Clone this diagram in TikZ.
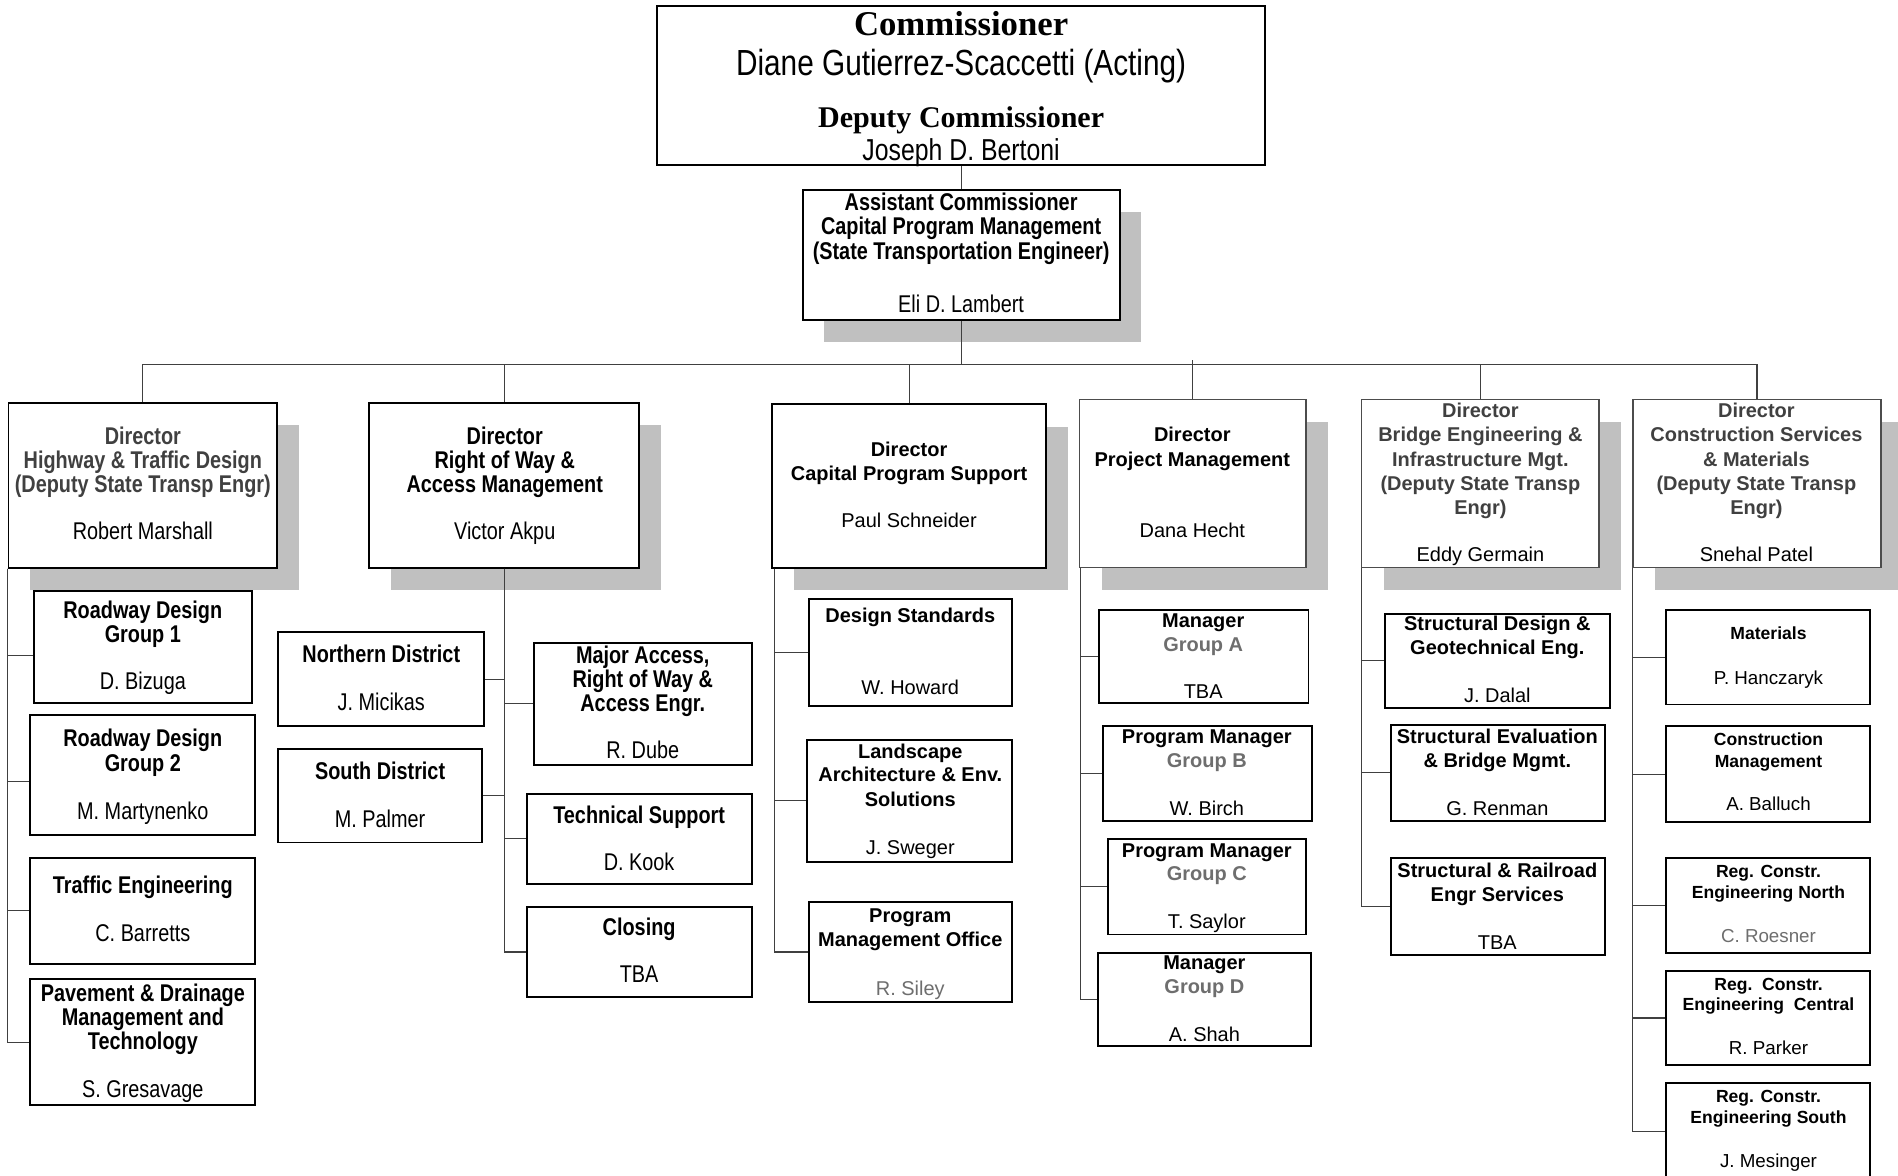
\documentclass[tikz,border=0pt]{standalone}
\usepackage{fontspec}
\setmainfont{Liberation Sans}
\newfontfamily\nfont[FakeStretch=0.82]{Liberation Sans}
\newfontfamily\tfont{Liberation Serif}
\usetikzlibrary{fit,shadows}
\definecolor{shd}{HTML}{C0C0C0}
\definecolor{tg}{HTML}{404040}
\definecolor{lg}{HTML}{6E6E6E}
\newcounter{tlc}
\newcommand\txl[4][]{\stepcounter{tlc}\node[#1] (t\arabic{tlc}) at (#2,#3) {#4};}
\newcommand\orgbox[6][]{\node[box,#1,fit={(#3,#4) (#5,#6)}] (#2) {};}
\begin{document}
\begin{tikzpicture}[x=1pt,y=-1pt,
  box/.style={draw=black, line width=1.6pt, fill=white, inner sep=0pt},
  dbox/.style={draw=black!70, line width=1pt},
  sh/.style={drop shadow={shadow xshift=18pt, shadow yshift=-18.5pt, fill=shd, opacity=1}},
  con/.style={draw=black!75, line width=0.9pt},
  bl/.style={anchor=base, inner sep=0pt},
  nb/.style={bl, font=\nfont\bfseries\fontsize{20}{20}\selectfont, yshift=-7pt},
  nr/.style={bl, font=\nfont\fontsize{20}{20}\selectfont, yshift=-7pt},
  rb/.style={bl, font=\bfseries\fontsize{16.5}{18}\selectfont, yshift=-6pt},
  rr/.style={bl, font=\fontsize{16.5}{18}\selectfont, yshift=-6pt},
  sb/.style={bl, font=\bfseries\fontsize{14.5}{16}\selectfont, yshift=-5.2pt},
  sr/.style={bl, font=\fontsize{15.5}{17}\selectfont, yshift=-5.5pt},
]
\fill[white] (0,0) rectangle (1568,971);
\useasboundingbox (0,0) rectangle (1568,971);

% ---------- top ----------
\orgbox{top}{543}{5}{1045}{136}
\txl[bl, font=\tfont\bfseries\fontsize{28.7}{30}\selectfont, yshift=-9.5pt]{794}{20}{Commissioner}
\txl[bl, font=\nfont\fontsize{30}{30}\selectfont, yshift=-10.5pt]{794}{52}{Diane Gutierrez-Scaccetti (Acting)}
\txl[bl, font=\tfont\bfseries\fontsize{24.8}{26}\selectfont, yshift=-8pt]{794}{97}{Deputy Commissioner}
\txl[bl, font=\nfont\fontsize{25}{25}\selectfont, yshift=-9pt]{794}{124}{Joseph D. Bertoni}

\orgbox[sh]{asst}{663}{157}{925}{264}
\txl[nb]{794}{167}{Assistant Commissioner}
\txl[nb]{794}{187}{Capital Program Management}
\txl[nb]{794}{207}{(State Transportation Engineer)}
\txl[nr]{794}{251}{Eli D. Lambert}

% ---------- directors ----------
\orgbox[sh]{d1}{7}{333}{229}{469}
\txl[nb,tg]{118}{360}{Director}
\txl[nb,tg]{118}{380}{Highway \& Traffic Design}
\txl[nb,tg]{118}{400}{(Deputy State Transp Engr)}
\txl[nr]{118}{439}{Robert Marshall}

\orgbox[sh]{d2}{305}{333}{528}{469}
\txl[nb]{417}{360}{Director}
\txl[nb]{417}{380}{Right of Way \&}
\txl[nb]{417}{400}{Access Management}
\txl[nr]{417}{439}{Victor Akpu}

\orgbox[sh]{d3}{638}{334}{864}{469}
\txl[rb]{751}{371}{Director}
\txl[rb]{751}{391}{Capital Program Support}
\txl[rr]{751}{430}{Paul Schneider}

\orgbox[sh,dbox]{d4}{892}{330}{1079}{469}
\txl[rb]{985}{359}{Director}
\txl[rb]{985}{379}{Project Management}
\txl[rr]{985}{438}{Dana Hecht}

\orgbox[sh,dbox]{d5}{1125}{330}{1321}{469}
\txl[rb,tg]{1223}{339}{Director}
\txl[rb,tg]{1223}{359}{Bridge Engineering \&}
\txl[rb,tg]{1223}{379}{Infrastructure Mgt.}
\txl[rb,tg]{1223}{399}{(Deputy State Transp}
\txl[rb,tg]{1223}{419}{Engr)}
\txl[rr]{1223}{458}{Eddy Germain}

\orgbox[sh,dbox]{d6}{1349}{330}{1554}{469}
\txl[rb,tg]{1451}{339}{Director}
\txl[rb,tg]{1451}{359}{Construction Services}
\txl[rb,tg]{1451}{379}{\& Materials}
\txl[rb,tg]{1451}{399}{(Deputy State Transp}
\txl[rb,tg]{1451}{419}{Engr)}
\txl[rr]{1451}{458}{Snehal Patel}

% ---------- column 1 ----------
\orgbox{c11}{28}{488}{208}{581}
\txl[nb]{118}{504}{Roadway Design}
\txl[nb]{118}{524}{Group 1}
\txl[nr]{118}{563}{D. Bizuga}
\orgbox{c12}{25}{591}{211}{690}
\txl[nb]{118}{610}{Roadway Design}
\txl[nb]{118}{630}{Group 2}
\txl[nr]{118}{670}{M. Martynenko}
\orgbox{c13}{25}{709}{211}{796}
\txl[nb]{118}{731}{Traffic Engineering}
\txl[nr]{118}{771}{C. Barretts}
\orgbox{c14}{25}{809}{211}{913}
\txl[nb]{118}{820}{Pavement \& Drainage}
\txl[nb]{118}{840}{Management and}
\txl[nb]{118}{860}{Technology}
\txl[nr]{118}{900}{S. Gresavage}

% ---------- column 2 ----------
\orgbox{c21}{230}{522}{400}{600}
\txl[nb]{315}{540}{Northern District}
\txl[nr]{315}{580}{J. Micikas}
\orgbox{c22}{230}{619}{398}{696}
\txl[nb]{314}{637}{South District}
\txl[nr]{314}{677}{M. Palmer}
\orgbox{c23}{441}{531}{621}{632}
\txl[nb]{531}{541}{Major Access,}
\txl[nb]{531}{561}{Right of Way \&}
\txl[nb]{531}{581}{Access Engr.}
\txl[nr]{531}{620}{R. Dube}
\orgbox{c24}{435}{656}{621}{730}
\txl[nb]{528}{673}{Technical Support}
\txl[nr]{528}{712}{D. Kook}
\orgbox{c25}{435}{749}{621}{824}
\txl[nb]{528}{766}{Closing}
\txl[nr]{528}{805}{TBA}

% ---------- column 3 ----------
\orgbox{c31}{668}{495}{836}{583}
\txl[rb]{752}{508}{Design Standards}
\txl[rr]{752}{568}{W. Howard}
\orgbox{c32}{667}{611}{836}{712}
\txl[rb]{752}{621}{Landscape}
\txl[rb]{752}{640}{Architecture \& Env.}
\txl[rb]{752}{660}{Solutions}
\txl[rr]{752}{700}{J. Sweger}
\orgbox{c33}{668}{745}{836}{828}
\txl[rb]{752}{756}{Program}
\txl[rb]{752}{776}{Management Office}
\txl[rr,lg]{752}{816}{R. Siley}

% ---------- column 4 ----------
\orgbox{c41}{908}{504}{1081}{581}
\txl[rb]{994}{512}{Manager}
\txl[rb,lg]{994}{532}{Group A}
\txl[rr]{994}{571}{TBA}
\orgbox{c42}{911}{600}{1084}{678}
\txl[rb]{997}{608}{Program Manager}
\txl[rb,lg]{997}{628}{Group B}
\txl[rr]{997}{668}{W. Birch}
\orgbox{c43}{915}{693}{1079}{772}
\txl[rb]{997}{702}{Program Manager}
\txl[rb,lg]{997}{721}{Group C}
\txl[rr]{997}{761}{T. Saylor}
\orgbox{c44}{907}{787}{1083}{864}
\txl[rb]{995}{795}{Manager}
\txl[rb,lg]{995}{815}{Group D}
\txl[rr]{995}{854}{A. Shah}

% ---------- column 5 ----------
\orgbox{c51}{1144}{507}{1330}{585}
\txl[rb]{1237}{515}{Structural Design \&}
\txl[rb]{1237}{535}{Geotechnical Eng.}
\txl[rr]{1237}{574}{J. Dalal}
\orgbox{c52}{1149}{599}{1326}{678}
\txl[rb]{1237}{608}{Structural Evaluation}
\txl[rb]{1237}{628}{\& Bridge Mgmt.}
\txl[rr]{1237}{668}{G. Renman}
\orgbox{c53}{1149}{709}{1326}{789}
\txl[rb]{1237}{719}{Structural \& Railroad}
\txl[rb]{1237}{739}{Engr Services}
\txl[rr]{1237}{778}{TBA}

% ---------- column 6 ----------
\orgbox{c61}{1376}{504}{1545}{582}
\txl[sb]{1461}{523}{Materials}
\txl[sr]{1461}{560}{P. Hanczaryk}
\orgbox{c62}{1376}{600}{1545}{679}
\txl[sb]{1461}{611}{Construction}
\txl[sb]{1461}{629}{Management}
\txl[sr]{1461}{664}{A. Balluch}
\orgbox{c63}{1376}{709}{1545}{787}
\txl[sb]{1461}{720}{Reg. Constr.}
\txl[sb]{1461}{737}{Engineering North}
\txl[sr,lg]{1461}{773}{C. Roesner}
\orgbox{c64}{1376}{802}{1545}{880}
\txl[sb]{1461}{813}{Reg.\ \ Constr.}
\txl[sb]{1461}{830}{Engineering\ \ Central}
\txl[sr]{1461}{866}{R. Parker}
\orgbox{c65}{1376}{895}{1545}{975}
\txl[sb]{1461}{906}{Reg. Constr.}
\txl[sb]{1461}{923}{Engineering South}
\txl[sr]{1461}{959}{J. Mesinger}

% ---------- connectors ----------
\coordinate (bus) at (794,301);
\draw[con] (top.south) -- (asst.north);
\draw[con] (asst.south) -- (bus);
\draw[con] (d1.north) |- (bus) -| (d6.north);
\draw[con] (d2.north) -- (d2.north |- bus);
\draw[con] (d3.north) -- (d3.north |- bus);
\draw[con] (d4.north) -- ([yshift=4pt]d4.north |- bus);
\draw[con] (d5.north) -- (d5.north |- bus);

\draw[con] (d1.south west) |- ([yshift=-7pt]c11.west);
\draw[con] (d1.south west) |- ([yshift=-5pt]c12.west);
\foreach \c in {c13,c14} \draw[con] (d1.south west) |- (\c.west);
\foreach \c in {c21,c22} \draw[con] (d2.south) |- (\c.east);
\foreach \c in {c23,c24,c25} \draw[con] (d2.south) |- (\c.west);
\foreach \c in {c31,c32,c33} \draw[con] ([xshift=3pt]d3.south west) |- (\c.west);
\foreach \c in {c41,c42,c43,c44} \draw[con] ([xshift=1pt]d4.south west) |- (\c.west);
\foreach \c in {c51,c52,c53} \draw[con] (d5.south west) |- (\c.west);
\foreach \c in {c61,c62,c63,c64,c65} \draw[con] (d6.south west) |- (\c.west);
\end{tikzpicture}
\end{document}
